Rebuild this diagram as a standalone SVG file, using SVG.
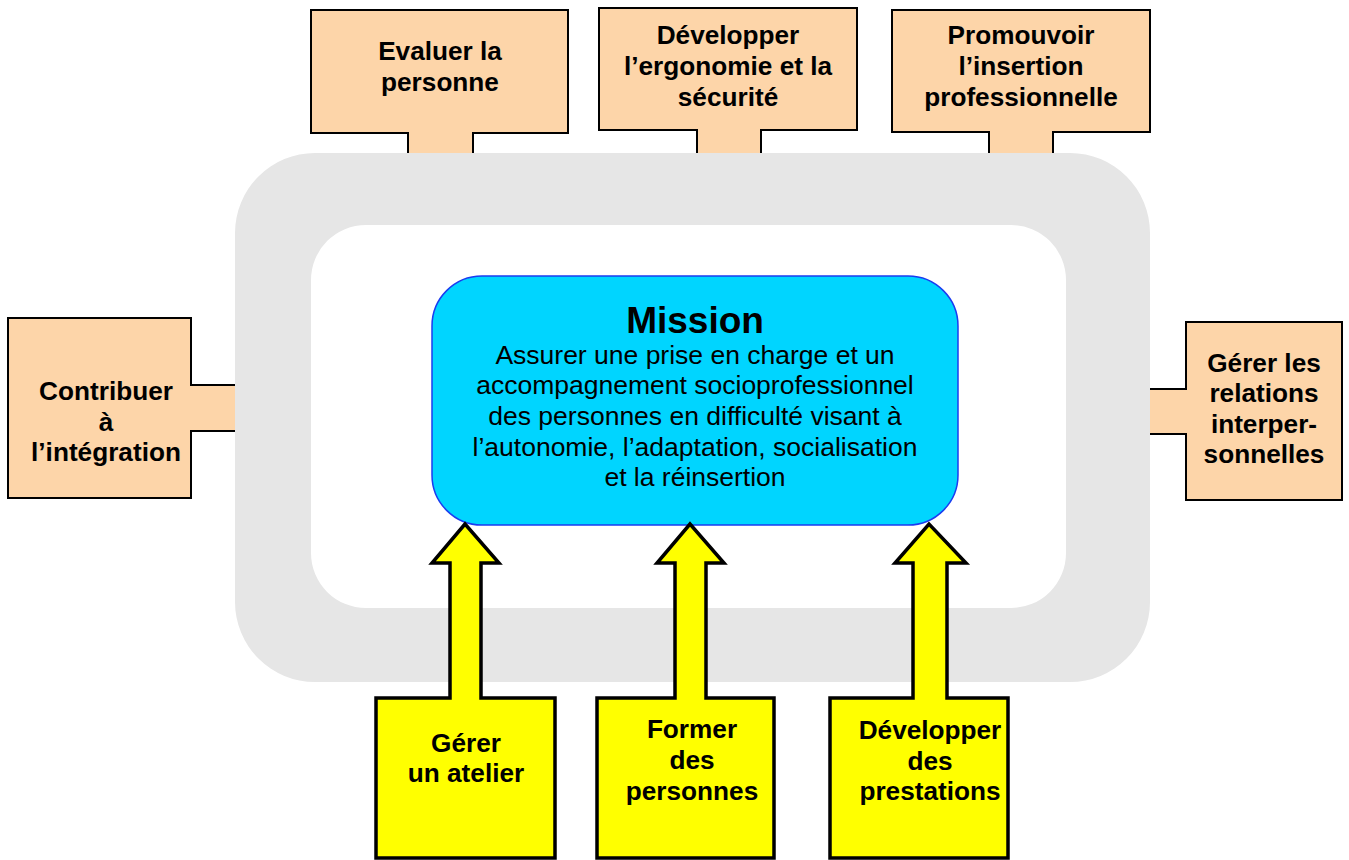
<svg xmlns="http://www.w3.org/2000/svg" width="1349" height="860" viewBox="0 0 1349 860">
<style>
.peach{fill:#fdd5a9;stroke:#000;stroke-width:2}
.yel{fill:#ffff00;stroke:#000;stroke-width:3.5;stroke-linejoin:miter}
.t{font-family:"Liberation Sans",Arial,sans-serif;font-weight:bold;font-size:26.2px;text-anchor:middle;fill:#000}
.m{font-family:"Liberation Sans",Arial,sans-serif;font-size:26.5px;text-anchor:middle;fill:#000}
</style>
<rect width="1349" height="860" fill="#fff"/>
<g id="n-evaluer">
<path class="peach" d="M311,10 H568 V133 H473 V165 H408 V133 H311 Z"/>
<text class="t" x="440" y="60">Evaluer la</text>
<text class="t" x="440" y="91">personne</text>
</g>
<g id="n-ergonomie">
<path class="peach" d="M599,8 H857 V130 H761 V165 H697 V130 H599 Z"/>
<text class="t" x="728" y="44">Développer</text>
<text class="t" x="728" y="75">l’ergonomie et la</text>
<text class="t" x="728" y="106">sécurité</text>
</g>
<g id="n-insertion">
<path class="peach" d="M892,10 H1150 V132 H1053 V165 H989 V132 H892 Z"/>
<text class="t" x="1021" y="44">Promouvoir</text>
<text class="t" x="1021" y="75">l’insertion</text>
<text class="t" x="1021" y="106">professionnelle</text>
</g>
<g id="n-integration">
<path class="peach" d="M8,318 H191 V385 H245 V431 H191 V498 H8 Z"/>
<text class="t" x="106" y="400">Contribuer</text>
<text class="t" x="106" y="431">à</text>
<text class="t" x="106" y="461">l’intégration</text>
</g>
<g id="n-relations">
<path class="peach" d="M1186,322 H1342 V500 H1186 V434 H1140 V389 H1186 Z"/>
<text class="t" x="1264" y="372">Gérer les</text>
<text class="t" x="1264" y="402">relations</text>
<text class="t" x="1264" y="433">interper-</text>
<text class="t" x="1264" y="463">sonnelles</text>
</g>
<g id="ring">
<path fill="#e6e6e6" fill-rule="evenodd" d="M315,153 H1070 A80,80 0 0 1 1150,233 V602 A80,80 0 0 1 1070,682 H315 A80,80 0 0 1 235,602 V233 A80,80 0 0 1 315,153 Z M366,225 H1011 A55,55 0 0 1 1066,280 V553 A55,55 0 0 1 1011,608 H366 A55,55 0 0 1 311,553 V280 A55,55 0 0 1 366,225 Z"/>
</g>
<g id="n-mission">
<rect x="432" y="276" width="526" height="249" rx="50" ry="50" fill="#00d5ff" stroke="#1a3cf0" stroke-width="1.5"/>
<text class="t" x="695" y="333" style="font-size:37px">Mission</text>
<text class="m" x="695" y="364">Assurer une prise en charge et un</text>
<text class="m" x="695" y="394">accompagnement socioprofessionnel</text>
<text class="m" x="695" y="425">des personnes en difficulté visant à</text>
<text class="m" x="695" y="456">l’autonomie, l’adaptation, socialisation</text>
<text class="m" x="695" y="486">et la réinsertion</text>
</g>
<g id="connectors">
<path class="yel" d="M376,698 H450 V563 H432 L465,524 L499,563 H481 V698 H555 V858 H376 Z"/>
<path class="yel" d="M597,698 H675 V563 H657 L690,524 L724,563 H706 V698 H774 V858 H597 Z"/>
<path class="yel" d="M830,698 H913 V563 H895 L929,524 L966,563 H947 V698 H1008 V858 H830 Z"/>
</g>
<g id="n-atelier">
<text class="t" x="466" y="752">Gérer</text>
<text class="t" x="466" y="782">un atelier</text>
</g>
<g id="n-former">
<text class="t" x="692" y="738">Former</text>
<text class="t" x="692" y="769">des</text>
<text class="t" x="692" y="800">personnes</text>
</g>
<g id="n-prestations">
<text class="t" x="930" y="739">Développer</text>
<text class="t" x="930" y="770">des</text>
<text class="t" x="930" y="800">prestations</text>
</g>
</svg>
